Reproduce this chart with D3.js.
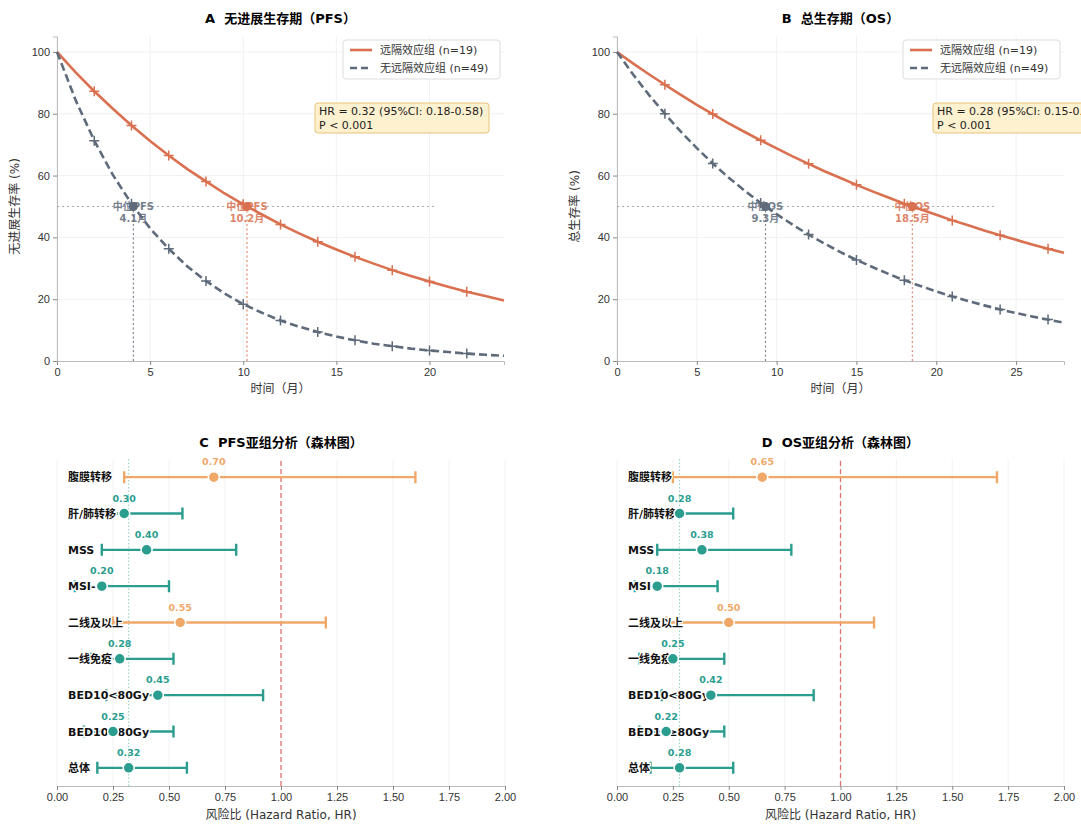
<!DOCTYPE html>
<html>
<head>
<meta charset="utf-8">
<script src="https://cdn.jsdelivr.net/npm/d3@7"></script>
<style>
  body { margin: 0; background: #fff; }
  svg { font-family: "DejaVu Sans", "Noto Sans CJK SC", sans-serif; }
  text { white-space: pre; }
</style>
</head>
<body>
<div id="chart"></div>
<script>
// ---- data ----
var pfsMonths = d3.range(0, 25);
var pfsRemote = [100, 93.4, 87.3, 81.6, 76.2, 71.2, 66.5, 62.1, 58.1, 54.2, 50.7, 47.4, 44.2, 41.3, 38.6, 36.1, 33.7, 31.5, 29.4, 27.5, 25.7, 24.0, 22.4, 21.0, 19.6];
var pfsNone = [100, 84.4, 71.3, 60.2, 50.9, 42.9, 36.3, 30.6, 25.9, 21.8, 18.4, 15.6, 13.1, 11.1, 9.4, 7.9, 6.7, 5.6, 4.8, 4.0, 3.4, 2.9, 2.4, 2.0, 1.7];
var pfsCensor = [2, 4, 6, 8, 10, 12, 14, 16, 18, 20, 22];

var osMonths = d3.range(0, 29);
var osRemote = [100, 96.3, 92.8, 89.4, 86.1, 82.9, 79.9, 76.9, 74.1, 71.4, 68.8, 66.2, 63.8, 61.4, 59.2, 57.0, 54.9, 52.9, 50.9, 49.1, 47.3, 45.5, 43.9, 42.2, 40.7, 39.2, 37.7, 36.3, 35.0];
var osNone = [100, 92.8, 86.1, 80.0, 74.2, 68.9, 63.9, 59.3, 55.1, 51.1, 47.5, 44.1, 40.9, 38.0, 35.2, 32.7, 30.4, 28.2, 26.1, 24.3, 22.5, 20.9, 19.4, 18.0, 16.7, 15.5, 14.4, 13.4, 12.4];
var osCensor = [3, 6, 9, 12, 15, 18, 21, 24, 27];

var groupNames = ["远隔效应组 (n=19)", "无远隔效应组 (n=49)"];

var subgroups = ["腹膜转移", "肝/肺转移", "MSS", "MSI-", "二线及以上", "一线免疫", "BED10<80Gy", "BED10≥80Gy", "总体"];
var pfsHR = [0.70, 0.30, 0.40, 0.20, 0.55, 0.28, 0.45, 0.25, 0.32];
var pfsLow = [0.30, 0.15, 0.20, 0.08, 0.25, 0.15, 0.22, 0.12, 0.18];
var pfsHigh = [1.60, 0.56, 0.80, 0.50, 1.20, 0.52, 0.92, 0.52, 0.58];
var osHR = [0.65, 0.28, 0.38, 0.18, 0.50, 0.25, 0.42, 0.22, 0.28];
var osLow = [0.25, 0.12, 0.18, 0.08, 0.22, 0.10, 0.20, 0.10, 0.15];
var osHigh = [1.70, 0.52, 0.78, 0.45, 1.15, 0.48, 0.88, 0.48, 0.52];

var RED = "#D9704F", GRAY = "#5F6B7A", ORANGE = "#F0A868", TEAL = "#2A9D8F";

var svg = d3.select("#chart").append("svg")
    .attr("width", 1081)
    .attr("height", 825);

function styleAxis(g) {
    g.selectAll(".domain").attr("stroke", "#bbb");
    g.selectAll(".tick line").attr("stroke", "#888");
    g.selectAll(".tick text").attr("fill", "#333").style("font-size", "11px");
}

// ---- Kaplan-Meier panels ----
function kmPanel(opt) {
    var x = d3.scaleLinear().domain([0, opt.xmax]).range(opt.xr);
    var y = d3.scaleLinear().domain([0, 105]).range([361, 36.5]);
    var g = svg.append("g");

    // grid
    g.append("g").selectAll("line").data(opt.xticks).join("line")
        .attr("x1", d => x(d)).attr("x2", d => x(d))
        .attr("y1", y(0)).attr("y2", y(105))
        .attr("stroke", "#eee").attr("stroke-width", 0.8);
    g.append("g").selectAll("line").data([20, 40, 60, 80, 100]).join("line")
        .attr("x1", x(0)).attr("x2", x(opt.xmax))
        .attr("y1", d => y(d)).attr("y2", d => y(d))
        .attr("stroke", "#eee").attr("stroke-width", 0.8);

    g.append("g").attr("transform", `translate(0, ${y(0)})`)
        .call(d3.axisBottom(x).tickValues(opt.xticks).tickSize(4).tickFormat(d3.format("d")))
        .call(styleAxis);
    g.append("g").attr("transform", `translate(${x(0)}, 0)`)
        .call(d3.axisLeft(y).tickValues([0, 20, 40, 60, 80, 100]).tickSize(4))
        .call(styleAxis);

    // median guides
    g.append("line")
        .attr("x1", x(0)).attr("x2", x(opt.hEnd))
        .attr("y1", y(50)).attr("y2", y(50))
        .attr("stroke", "#aaa").attr("stroke-width", 1).attr("stroke-dasharray", "2,3");
    opt.medians.forEach(function (m, i) {
        var c = i === 0 ? RED : GRAY;
        g.append("line")
            .attr("x1", x(m)).attr("x2", x(m))
            .attr("y1", y(0)).attr("y2", y(50))
            .attr("stroke", c).attr("stroke-width", 1.2).attr("stroke-dasharray", "2,2.5")
            .attr("opacity", 0.8);
    });

    var line = d3.line().x((d, i) => x(opt.months[i])).y(d => y(d));
    g.append("path").datum(opt.remote).attr("d", line)
        .attr("fill", "none").attr("stroke", RED).attr("stroke-width", 2.6);
    g.append("path").datum(opt.none).attr("d", line)
        .attr("fill", "none").attr("stroke", GRAY).attr("stroke-width", 2.6)
        .attr("stroke-dasharray", "8,4");

    // censor marks
    [[opt.remote, RED], [opt.none, GRAY]].forEach(function (s) {
        g.append("g").selectAll("path").data(opt.censor).join("path")
            .attr("d", function (t) {
                var cx = x(t), cy = y(s[0][opt.months.indexOf(t)]);
                return `M${cx - 5},${cy}H${cx + 5}M${cx},${cy - 5}V${cy + 5}`;
            })
            .attr("stroke", s[1]).attr("stroke-width", 1.5);
    });

    // median markers
    opt.medians.forEach(function (m, i) {
        var c = i === 0 ? RED : GRAY;
        g.append("text").attr("x", x(m)).attr("y", y(50) + 4)
            .attr("text-anchor", "middle").attr("fill", c).attr("opacity", 0.85)
            .style("font-size", "10px").style("font-weight", "bold")
            .text(opt.medLabel);
        g.append("text").attr("x", x(m)).attr("y", y(50) + 16)
            .attr("text-anchor", "middle").attr("fill", c).attr("opacity", 0.85)
            .style("font-size", "10px").style("font-weight", "bold")
            .text(m + "月");
        g.append("circle").attr("cx", x(m)).attr("cy", y(50)).attr("r", 4.5)
            .attr("fill", c);
    });

    // legend
    var lx = opt.xr[1] - 161, ly = 40;
    g.append("rect").attr("x", lx).attr("y", ly).attr("width", 157).attr("height", 39)
        .attr("rx", 3).attr("fill", "#fff").attr("stroke", "#ddd");
    [RED, GRAY].forEach(function (c, i) {
        g.append("line").attr("x1", lx + 7).attr("x2", lx + 29)
            .attr("y1", ly + 10 + i * 18).attr("y2", ly + 10 + i * 18)
            .attr("stroke", c).attr("stroke-width", 2.6)
            .attr("stroke-dasharray", i === 1 ? "7,4" : null);
        g.append("text").attr("x", lx + 37).attr("y", ly + 14 + i * 18)
            .attr("fill", "#333").style("font-size", "11px").text(groupNames[i]);
    });

    // HR box
    var bx = opt.boxX, by = 103;
    g.append("rect").attr("x", bx).attr("y", by).attr("width", 174).attr("height", 30)
        .attr("rx", 3).attr("fill", "#FEF1CF").attr("stroke", "#E9C27A");
    g.append("text").attr("x", bx + 4).attr("y", by + 12).attr("fill", "#222")
        .style("font-size", "11px").text(opt.hrText);
    g.append("text").attr("x", bx + 4).attr("y", by + 26).attr("fill", "#222")
        .style("font-size", "11px").text("P < 0.001");

    // labels
    g.append("text").attr("x", (opt.xr[0] + opt.xr[1]) / 2).attr("y", 23)
        .attr("text-anchor", "middle").style("font-size", "13px").style("font-weight", "bold")
        .text(opt.title);
    g.append("text").attr("x", (opt.xr[0] + opt.xr[1]) / 2).attr("y", 393)
        .attr("text-anchor", "middle").attr("fill", "#333").style("font-size", "12px")
        .text("时间（月）");
    g.append("text")
        .attr("transform", `translate(${opt.xr[0] - 38}, ${y(50)}) rotate(-90)`)
        .attr("text-anchor", "middle").attr("fill", "#333").style("font-size", "12px")
        .text(opt.ylabel);
}

kmPanel({
    xr: [57, 504], xmax: 24, xticks: [0, 5, 10, 15, 20],
    months: pfsMonths, remote: pfsRemote, none: pfsNone, censor: pfsCensor,
    medians: [10.2, 4.1], medLabel: "中位PFS", hEnd: 20.4, boxX: 315,
    hrText: "HR = 0.32 (95%CI: 0.18-0.58)",
    title: "A  无进展生存期（PFS）", ylabel: "无进展生存率 (%)"
});
kmPanel({
    xr: [617, 1064], xmax: 28, xticks: [0, 5, 10, 15, 20, 25],
    months: osMonths, remote: osRemote, none: osNone, censor: osCensor,
    medians: [18.5, 9.3], medLabel: "中位OS", hEnd: 23.8, boxX: 933,
    hrText: "HR = 0.28 (95%CI: 0.15-0.52)",
    title: "B  总生存期（OS）", ylabel: "总生存率 (%)"
});

// ---- forest panels ----
function forestPanel(opt) {
    var x = d3.scaleLinear().domain([0, 2]).range(opt.xr);
    var y = d3.scaleLinear().domain([-0.5, 8.5]).range([786, 459]);
    var g = svg.append("g");
    var rows = subgroups.map((s, i) => ({ name: s, hr: opt.hr[i], lo: opt.lo[i], hi: opt.hi[i], pos: 8 - i }));

    g.append("g").selectAll("line").data(d3.range(0, 2.01, 0.25)).join("line")
        .attr("x1", d => x(d)).attr("x2", d => x(d))
        .attr("y1", y(-0.5)).attr("y2", y(8.5))
        .attr("stroke", "#f0f0f0").attr("stroke-width", 0.8);
    g.append("g").attr("transform", `translate(0, ${y(-0.5)})`)
        .call(d3.axisBottom(x).tickValues(d3.range(0, 2.01, 0.25)).tickSize(4).tickFormat(d3.format(".2f")))
        .call(styleAxis);

    g.append("line").attr("x1", x(opt.overall)).attr("x2", x(opt.overall))
        .attr("y1", y(-0.5)).attr("y2", y(8.5))
        .attr("stroke", TEAL).attr("stroke-opacity", 0.5).attr("stroke-width", 1)
        .attr("stroke-dasharray", "1.5,2");
    g.append("line").attr("x1", x(1)).attr("x2", x(1))
        .attr("y1", y(-0.5)).attr("y2", y(8.5))
        .attr("stroke", "#D9534F").attr("stroke-opacity", 0.8).attr("stroke-width", 1.3)
        .attr("stroke-dasharray", "5,3");

    var col = d => d.hr >= 0.5 ? ORANGE : TEAL;
    var r = g.selectAll("g.row").data(rows).join("g").attr("class", "row");
    r.append("line")
        .attr("x1", d => x(d.lo)).attr("x2", d => x(d.hi))
        .attr("y1", d => y(d.pos)).attr("y2", d => y(d.pos))
        .attr("stroke", col).attr("stroke-width", 2.4);
    r.append("path")
        .attr("d", d => `M${x(d.lo)},${y(d.pos) - 6}V${y(d.pos) + 6}M${x(d.hi)},${y(d.pos) - 6}V${y(d.pos) + 6}`)
        .attr("stroke", col).attr("stroke-width", 2.4);
    r.append("text")
        .attr("x", opt.xr[0] + 11).attr("y", d => y(d.pos) + 4)
        .attr("fill", "#111").attr("stroke", "#fff").attr("stroke-width", 2.5)
        .attr("paint-order", "stroke")
        .style("font-size", "11px").style("font-weight", "bold")
        .text(d => d.name);
    r.append("circle")
        .attr("cx", d => x(d.hr)).attr("cy", d => y(d.pos)).attr("r", 5.5)
        .attr("fill", col).attr("stroke", "#fff").attr("stroke-width", 1.5);
    r.append("text")
        .attr("x", d => x(d.hr)).attr("y", d => y(d.pos) - 12)
        .attr("text-anchor", "middle").attr("fill", col)
        .style("font-size", "9.5px").style("font-weight", "bold")
        .text(d => d.hr.toFixed(2));

    g.append("text").attr("x", (opt.xr[0] + opt.xr[1]) / 2).attr("y", 447)
        .attr("text-anchor", "middle").style("font-size", "13px").style("font-weight", "bold")
        .text(opt.title);
    g.append("text").attr("x", (opt.xr[0] + opt.xr[1]) / 2).attr("y", 819)
        .attr("text-anchor", "middle").attr("fill", "#333").style("font-size", "12px")
        .text("风险比 (Hazard Ratio, HR)");
}

forestPanel({ xr: [57, 505], hr: pfsHR, lo: pfsLow, hi: pfsHigh, overall: 0.32, title: "C  PFS亚组分析（森林图）" });
forestPanel({ xr: [617, 1064], hr: osHR, lo: osLow, hi: osHigh, overall: 0.28, title: "D  OS亚组分析（森林图）" });
</script>
</body>
</html>
